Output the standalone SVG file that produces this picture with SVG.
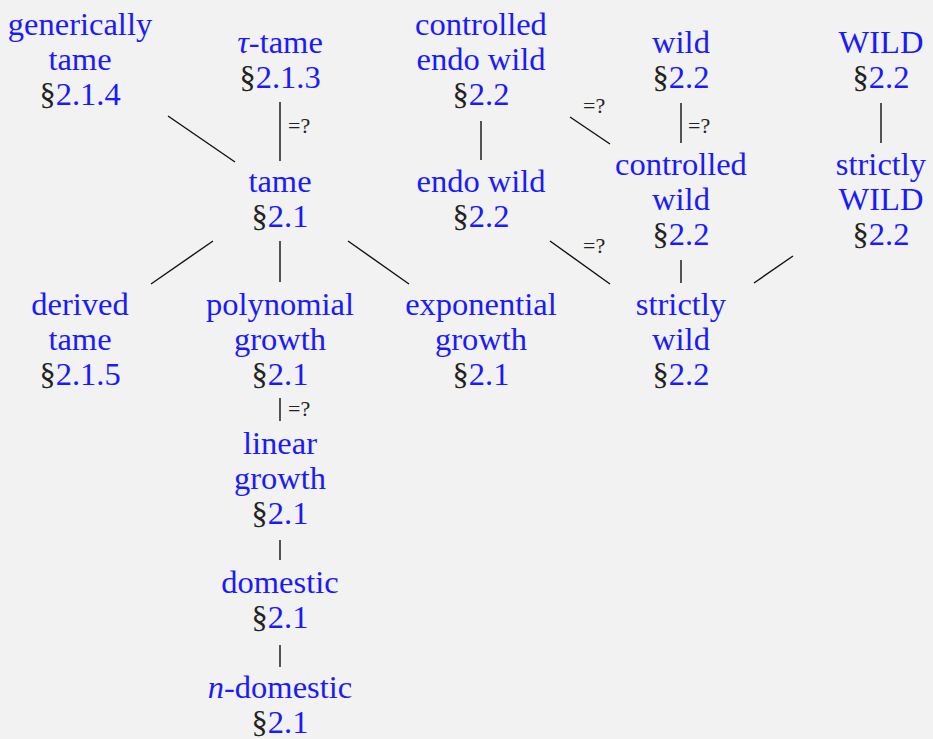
<svg xmlns="http://www.w3.org/2000/svg" width="933" height="739" viewBox="0 0 933 739">
<style>
.n{font-size:32.5px;fill:#1a1aff;text-anchor:middle;}
.s{fill:#222;}
.lb{font-size:22px;fill:#222;}
.e{stroke:#111;stroke-width:1.4;fill:none;}
</style>
<rect width="933" height="739" fill="#f2f2f2"/>
<g font-family="Liberation Serif, serif">
<g id="connectors">
<line class="e" x1="168" y1="116" x2="235" y2="162"/>
<line class="e" x1="280" y1="102" x2="280" y2="161"/>
<text class="lb" x="288" y="133">=?</text>
<line class="e" x1="481" y1="121" x2="481" y2="160"/>
<line class="e" x1="570" y1="117" x2="610" y2="144"/>
<text class="lb" x="583" y="113">=?</text>
<line class="e" x1="681" y1="103" x2="681" y2="143"/>
<text class="lb" x="688" y="133">=?</text>
<line class="e" x1="881" y1="103" x2="881" y2="143"/>
<line class="e" x1="213" y1="241" x2="151" y2="284"/>
<line class="e" x1="280" y1="241" x2="280" y2="282"/>
<line class="e" x1="348" y1="241" x2="409" y2="284"/>
<line class="e" x1="550" y1="241" x2="610" y2="284"/>
<text class="lb" x="583" y="253">=?</text>
<line class="e" x1="681" y1="260" x2="681" y2="283"/>
<line class="e" x1="793" y1="256" x2="754" y2="283"/>
<line class="e" x1="280" y1="398" x2="280" y2="421"/>
<text class="lb" x="288" y="416">=?</text>
<line class="e" x1="280" y1="540" x2="280" y2="560"/>
<line class="e" x1="280" y1="645" x2="280" y2="667"/>
</g>
<g id="generically-tame"><text class="n" x="80" y="35">generically</text><text class="n" x="80" y="70">tame</text><text class="n" x="80" y="105"><tspan class="s">§</tspan>2.1.4</text></g>
<g id="tau-tame"><text class="n" x="280" y="53"><tspan font-style="italic">τ</tspan>-tame</text><text class="n" x="280" y="88"><tspan class="s">§</tspan>2.1.3</text></g>
<g id="controlled-endo-wild"><text class="n" x="481" y="35">controlled</text><text class="n" x="481" y="70">endo wild</text><text class="n" x="481" y="105"><tspan class="s">§</tspan>2.2</text></g>
<g id="wild"><text class="n" x="681" y="53">wild</text><text class="n" x="681" y="88"><tspan class="s">§</tspan>2.2</text></g>
<g id="WILD"><text class="n" x="881" y="53">WILD</text><text class="n" x="881" y="88"><tspan class="s">§</tspan>2.2</text></g>
<g id="tame"><text class="n" x="280" y="192">tame</text><text class="n" x="280" y="227"><tspan class="s">§</tspan>2.1</text></g>
<g id="endo-wild"><text class="n" x="481" y="192">endo wild</text><text class="n" x="481" y="227"><tspan class="s">§</tspan>2.2</text></g>
<g id="controlled-wild"><text class="n" x="681" y="175">controlled</text><text class="n" x="681" y="210">wild</text><text class="n" x="681" y="245"><tspan class="s">§</tspan>2.2</text></g>
<g id="strictly-WILD"><text class="n" x="881" y="175">strictly</text><text class="n" x="881" y="210">WILD</text><text class="n" x="881" y="245"><tspan class="s">§</tspan>2.2</text></g>
<g id="derived-tame"><text class="n" x="80" y="315">derived</text><text class="n" x="80" y="350">tame</text><text class="n" x="80" y="385"><tspan class="s">§</tspan>2.1.5</text></g>
<g id="polynomial-growth"><text class="n" x="280" y="315">polynomial</text><text class="n" x="280" y="350">growth</text><text class="n" x="280" y="385"><tspan class="s">§</tspan>2.1</text></g>
<g id="exponential-growth"><text class="n" x="481" y="315">exponential</text><text class="n" x="481" y="350">growth</text><text class="n" x="481" y="385"><tspan class="s">§</tspan>2.1</text></g>
<g id="strictly-wild"><text class="n" x="681" y="315">strictly</text><text class="n" x="681" y="350">wild</text><text class="n" x="681" y="385"><tspan class="s">§</tspan>2.2</text></g>
<g id="linear-growth"><text class="n" x="280" y="454">linear</text><text class="n" x="280" y="489">growth</text><text class="n" x="280" y="524"><tspan class="s">§</tspan>2.1</text></g>
<g id="domestic"><text class="n" x="280" y="593">domestic</text><text class="n" x="280" y="628"><tspan class="s">§</tspan>2.1</text></g>
<g id="n-domestic"><text class="n" x="280" y="698"><tspan font-style="italic">n</tspan>-domestic</text><text class="n" x="280" y="733"><tspan class="s">§</tspan>2.1</text></g>
</g>
</svg>
